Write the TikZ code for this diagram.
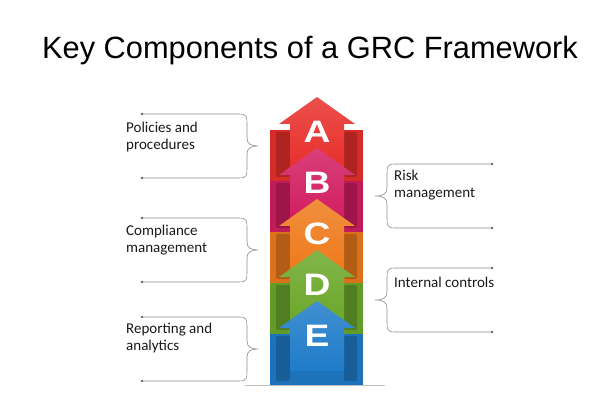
\documentclass[tikz,border=0pt]{standalone}
\usepackage{fontspec}
\setmainfont{Carlito}
\newfontfamily\titlefont{Liberation Sans}
\usetikzlibrary{positioning}

\definecolor{gradeA}{HTML}{E8302C}
\definecolor{gradeB}{HTML}{D21E62}
\definecolor{gradeC}{HTML}{EE7B1C}
\definecolor{gradeD}{HTML}{6CA82B}
\definecolor{gradeE}{HTML}{1F7CC9}

\begin{document}
\begin{tikzpicture}[x=1pt,y=-1pt,
    brace/.style={draw=black!45, line width=0.6pt},
    label/.style={anchor=west, align=left, inner sep=0pt, text=black!90,
      font=\fontsize{15}{16.5}\selectfont},
    grade/.style={text=white, inner sep=0pt,
      font=\titlefont\bfseries\fontsize{31}{31}\selectfont}]
  \useasboundingbox (0,0) rectangle (605,414);

  \node[font=\titlefont\fontsize{30.8}{34}\selectfont] (title) at (310,51) {Key Components of a GRC Framework};

  % stack of grades
  \draw[black!25] (245,385) -- (385,385);
  \foreach \l/\c/\t in {A/gradeA/97, B/gradeB/148, C/gradeC/199, D/gradeD/250, E/gradeE/301} {
    \fill[\c!92!black] (270,\t+33) rectangle (363,\t+84);
    \fill[\c!75!black, rounded corners=2pt] (276,\t+35) rectangle (290,\t+80);
    \fill[\c!75!black, rounded corners=2pt] (344,\t+35) rectangle (357,\t+80);
    \shade[top color=\c!85!white, bottom color=\c]
      (317,\t) -- (355,\t+27) -- (344,\t+27) -- (344,\t+70)
      -- (290,\t+70) -- (290,\t+27) -- (279,\t+27) -- cycle;
    \node[grade] (grade\l) at (317,\t+35) {\scalebox{1.2}[1]{\l}};
  }

  % left side
  \foreach \y in {114,218,317} {
    \draw[brace] (142,\y) -- (239,\y) .. controls (247,\y) and (247,\y+3) .. (247,\y+10)
      -- (247,\y+24) .. controls (247,\y+30) and (251,\y+32) .. (258,\y+32)
      .. controls (251,\y+32) and (247,\y+34) .. (247,\y+40)
      -- (247,\y+54) .. controls (247,\y+61) and (247,\y+64) .. (239,\y+64) -- (142,\y+64);
    \fill[black!60] (142,\y) circle (1.4pt) (142,\y+64) circle (1.4pt);
  }
  \node[label] (policies) at (126,137) {Policies and\\procedures};
  \node[label] (compliance) at (126,240) {Compliance\\management};
  \node[label] (reporting) at (126,338) {Reporting and\\analytics};

  % right side
  \foreach \y in {164,268} {
    \draw[brace] (492,\y) -- (395,\y) .. controls (387,\y) and (387,\y+3) .. (387,\y+10)
      -- (387,\y+24) .. controls (387,\y+30) and (383,\y+32) .. (375,\y+32)
      .. controls (383,\y+32) and (387,\y+34) .. (387,\y+40)
      -- (387,\y+54) .. controls (387,\y+61) and (387,\y+64) .. (395,\y+64) -- (492,\y+64);
    \fill[black!60] (492,\y) circle (1.4pt) (492,\y+64) circle (1.4pt);
  }
  \node[label] (risk) at (394,185) {Risk\\management};
  \node[label] (controls) at (394,282) {Internal controls};
\end{tikzpicture}
\end{document}
